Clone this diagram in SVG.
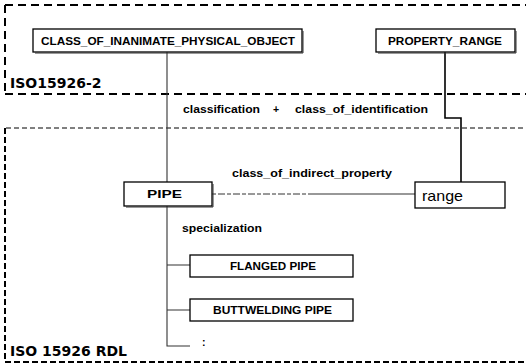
<svg xmlns="http://www.w3.org/2000/svg" width="526" height="364" viewBox="0 0 526 364">
<style>
.bg{fill:#fff}
.box{fill:#fff;stroke:#000;stroke-width:1.3}
.sh{fill:none;stroke:#333;stroke-width:1}
.t{font-family:"Liberation Sans",Arial,sans-serif;font-weight:bold;font-size:10.5px;fill:#000}
.lbl{font-family:"Liberation Sans",Arial,sans-serif;font-weight:bold;font-size:10.5px;fill:#000}
.reg{font-family:"DejaVu Sans","Liberation Sans",sans-serif;font-weight:bold;font-size:14px;fill:#000}
.rng{font-family:"Liberation Sans",Arial,sans-serif;font-size:15px;fill:#000}
.c{fill:none;stroke:#333;stroke-width:1.1}
.c2{fill:none;stroke:#000;stroke-width:1.6}
.d1{fill:none;stroke:#000;stroke-width:2;stroke-dasharray:8 5}
.d2{fill:none;stroke:#000;stroke-width:1;stroke-dasharray:5 3}
.d3{fill:none;stroke:#000;stroke-width:2;stroke-dasharray:6 3}
</style>
<rect class="bg" x="0" y="0" width="526" height="364"/>
<g id="region-iso15926-2">
<path class="d1" d="M5,5 H526 M5,5 V94 M5,94 H526"/>
<text class="reg" x="10" y="88">ISO15926-2</text>
</g>
<g id="region-rdl">
<path class="d2" d="M6,128 H526"/>
<path class="d3" d="M5,128 V362"/>
<path class="d3" d="M5,362 H526"/>
<text class="reg" x="10" y="356">ISO 15926 RDL</text>
</g>
<g id="connectors">
<path class="c" d="M167,52 V182 M167,206 V346 H190 M167,265 H190 M167,310 H190"/>
<path class="c2" d="M445,52 V118 H461 V182"/>
<path class="c" d="M313,194 H415"/>
<path fill="none" stroke="#333" stroke-width="1" stroke-dasharray="4 2 7 2" d="M212,194 H313"/>
</g>
<g id="labels">
<text class="lbl" x="183" y="113" textLength="77" lengthAdjust="spacingAndGlyphs">classification</text>
<text class="lbl" x="273" y="113">+</text>
<text class="lbl" x="295" y="113" textLength="133" lengthAdjust="spacingAndGlyphs">class_of_identification</text>
<text class="lbl" x="232" y="177" textLength="160" lengthAdjust="spacingAndGlyphs">class_of_indirect_property</text>
<text class="lbl" x="182" y="232" textLength="80" lengthAdjust="spacingAndGlyphs">specialization</text>
<text class="lbl" x="202" y="346">:</text>
</g>
<g id="node-class-of-inanimate">
<rect class="box" x="33" y="29" width="269" height="23"/>
<path class="sh" d="M303,31 V53 H35"/>
<text class="t" x="41" y="45" textLength="254" lengthAdjust="spacingAndGlyphs">CLASS_OF_INANIMATE_PHYSICAL_OBJECT</text>
</g>
<g id="node-property-range">
<rect class="box" x="376" y="29" width="139" height="23"/>
<path class="sh" d="M516,31 V53 H378"/>
<text class="t" x="388" y="45" textLength="114" lengthAdjust="spacingAndGlyphs">PROPERTY_RANGE</text>
</g>
<g id="node-pipe">
<rect class="box" x="124" y="182" width="88" height="24"/>
<path class="sh" d="M213,184 V207 H126"/>
<text class="t" x="147" y="198" textLength="35" lengthAdjust="spacingAndGlyphs">PIPE</text>
</g>
<g id="node-range">
<rect class="box" x="415" y="182" width="90" height="26"/>
<text class="rng" x="422" y="201" textLength="41" lengthAdjust="spacingAndGlyphs">range</text>
</g>
<g id="node-flanged-pipe">
<rect class="box" x="190" y="255" width="163" height="22"/>
<text class="t" x="230" y="270" textLength="86" lengthAdjust="spacingAndGlyphs">FLANGED PIPE</text>
</g>
<g id="node-buttwelding-pipe">
<rect class="box" x="190" y="299" width="163" height="22"/>
<text class="t" x="213" y="314" textLength="119" lengthAdjust="spacingAndGlyphs">BUTTWELDING PIPE</text>
</g>
</svg>
